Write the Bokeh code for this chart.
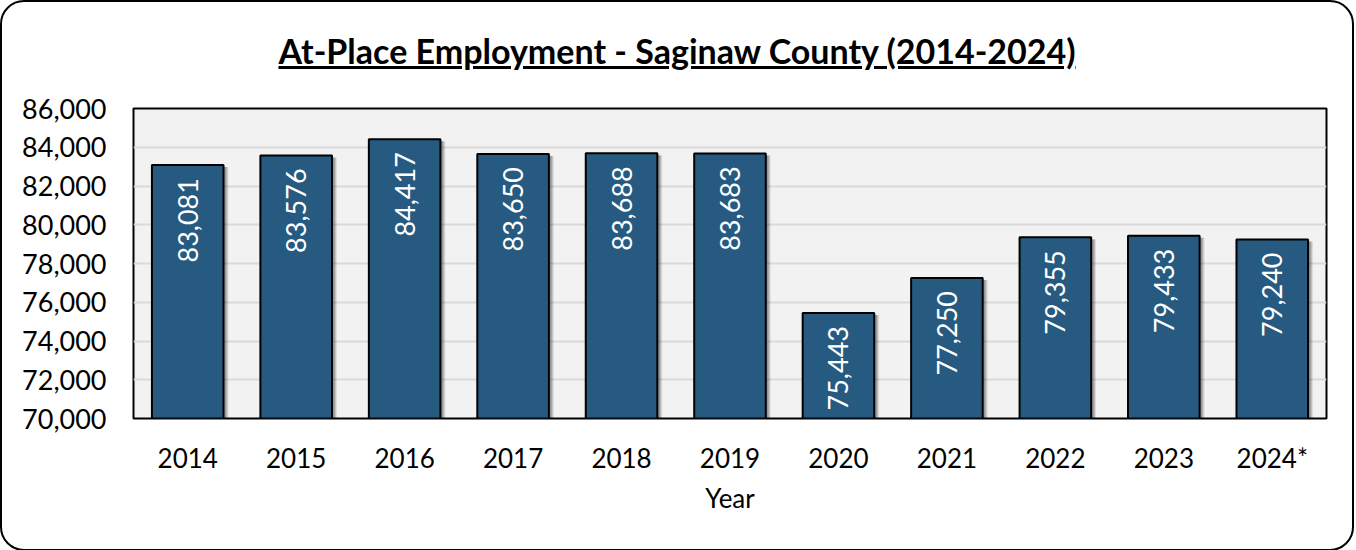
import math
from bokeh.plotting import figure
from bokeh.models import Div, NumeralTickFormatter, SingleIntervalTicker, ColumnDataSource, FactorRange, Range1d
from bokeh.transform import dodge
from bokeh.layouts import column
from bokeh.embed import file_html
from bokeh.resources import INLINE
from bokeh.core.properties import value

# ---- data ----
years = ["2014", "2015", "2016", "2017", "2018", "2019", "2020", "2021", "2022", "2023", "2024*"]
employment = [83081, 83576, 84417, 83650, 83688, 83683, 75443, 77250, 79355, 79433, 79240]
y_ticks_min, y_ticks_max, y_step = 70000, 86000, 2000
title_text = "At-Place Employment - Saginaw County (2014-2024)"
x_label = "Year"

FONT = "Lato"
BAR = "#265A80"

frame_h = 310
px = (y_ticks_max - y_ticks_min) / frame_h  # data units per pixel

labels = [f"{v:,}" for v in employment]
src = ColumnDataSource(dict(
    x=years, top=employment, label=labels,
    shadow_top=[v - 2 * px for v in employment],
    label_y=[v - 13 * px for v in employment],
))

p = figure(x_range=FactorRange(*years), y_range=Range1d(y_ticks_min, y_ticks_max),
           width=1340, height=467, output_backend="svg", toolbar_location=None,
           min_border_left=131, min_border_right=16, min_border_top=26, min_border_bottom=131)
p.x_range.range_padding = 0

p.background_fill_color = "#F2F2F2"
p.border_fill_color = None
p.outline_line_color = "black"
p.outline_line_width = 2

# shadows
for dx, a in [(0.045, 0.10), (0.035, 0.14), (0.025, 0.18)]:
    p.vbar(x=dodge("x", dx, range=p.x_range), top="shadow_top", bottom=y_ticks_min, width=0.66,
           source=src, fill_color="black", fill_alpha=a, line_color=None)

p.vbar(x="x", top="top", bottom=y_ticks_min, width=0.66, source=src,
       fill_color=BAR, line_color="black", line_width=2)

p.text(x="x", y="label_y", text="label", source=src, angle=math.pi / 2,
       text_align="right", text_baseline="middle", text_color="white",
       text_font=value(FONT), text_font_size="27px")

p.yaxis.ticker = SingleIntervalTicker(interval=y_step)
p.yaxis.formatter = NumeralTickFormatter(format="0,0")
for ax in (p.xaxis[0], p.yaxis[0]):
    ax.axis_line_color = None
    ax.major_tick_line_color = None
    ax.minor_tick_line_color = None
    ax.major_label_text_font = FONT
    ax.major_label_text_color = "black"
p.yaxis.major_label_text_font_size = "27px"
p.xaxis.major_label_text_font_size = "26px"
p.yaxis.major_label_standoff = 21
p.xaxis.major_label_standoff = 17
p.xaxis.axis_label = x_label
p.xaxis.axis_label_text_font = FONT
p.xaxis.axis_label_text_font_size = "26px"
p.xaxis.axis_label_text_font_style = "normal"
p.xaxis.axis_label_text_color = "black"
p.xaxis.axis_label_standoff = 5

p.xgrid.grid_line_color = None
p.ygrid.grid_line_color = "#D9D9D9"
p.ygrid.grid_line_width = 2

title = Div(text=f'<div style="width:1340px;text-align:center;font-family:{FONT};font-size:34px;'
                 f'font-weight:bold;text-decoration:underline;color:black;padding-top:20px;">{title_text}</div>',
            width=1340, height=70)

layout = column(title, p, spacing=0,
                styles={"border": "2px solid black", "border-radius": "24px", "background": "white"})

open("out.html", "w").write(file_html(layout, INLINE))
